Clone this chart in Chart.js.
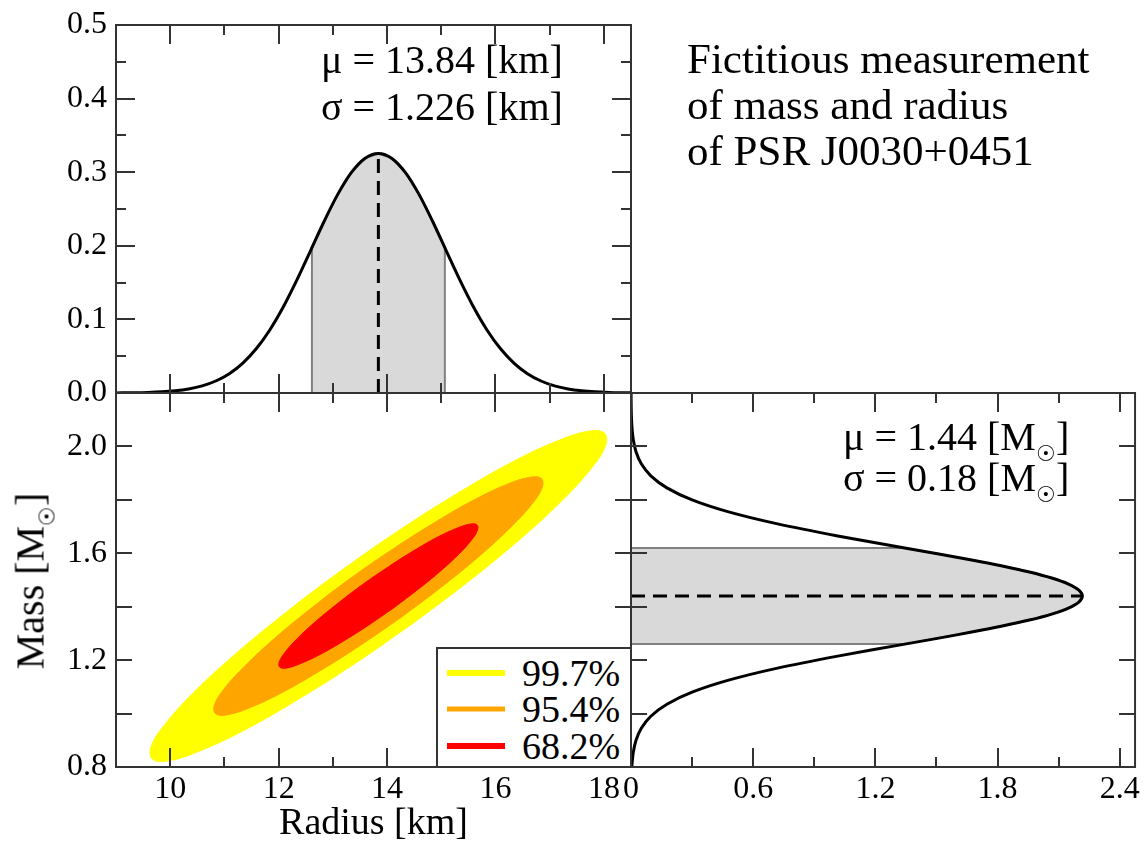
<!DOCTYPE html>
<html>
<head>
<meta charset="utf-8">
<title>Fictitious measurement of mass and radius of PSR J0030+0451</title>
<script src="https://cdn.jsdelivr.net/npm/chart.js@4.4.1/dist/chart.umd.min.js"></script>
<style>
  html, body { margin: 0; padding: 0; background: #fff; }
  #page { position: relative; width: 1147px; height: 843px; overflow: hidden;
          font-family: 'Liberation Serif', 'Times New Roman', serif; color: #000; }
  #page canvas { position: absolute; left: 0; top: 0; }
  .txt { position: absolute; white-space: nowrap; font-size: 40px; line-height: 44px; }
  .head { position: absolute; white-space: nowrap; font-size: 43px; line-height: 46px; left: 687px; }
  .sun { font-size: 55%; position: relative; top: 0.5em; font-family: 'DejaVu Serif', serif; }
  #legend { position: absolute; left: 436px; top: 647px; width: 196px; height: 121px;
            box-sizing: border-box; border: 2px solid #333; background: #fff; }
  .row { position: absolute; left: 0; width: 100%; height: 36px; }
  .row i { position: absolute; left: 9px; width: 58px; top: 50%; transform: translateY(-50%); }
  .row span { position: absolute; left: 84px; top: 0; font-size: 38px; line-height: 36px; }
  #massTitle { position: absolute; left: 30px; top: 581px; white-space: nowrap; font-size: 40px;
               transform: translate(-50%, -50%) rotate(-90deg); }
</style>
</head>
<body>
<div id="page">
  <canvas id="cTop" width="1147" height="843"></canvas>
  <canvas id="cMR" width="1147" height="843"></canvas>
  <canvas id="cMass" width="1147" height="843"></canvas>

  <div class="txt" style="left:321px; top:38px;">μ = 13.84 [km]</div>
  <div class="txt" style="left:321px; top:85px;">σ = 1.226 [km]</div>

  <div class="head" style="top:36px;">Fictitious measurement</div>
  <div class="head" style="top:82px;">of mass and radius</div>
  <div class="head" style="top:128px;">of PSR J0030+0451</div>

  <div class="txt" style="left:843px; top:415px;">μ = 1.44 [M<span class="sun">☉</span>]</div>
  <div class="txt" style="left:843px; top:456px;">σ = 0.18 [M<span class="sun">☉</span>]</div>

  <div id="massTitle">Mass [M<span class="sun">☉</span>]</div>

  <div id="legend">
    <div class="row" style="top:6px;"><i style="height:6px; background:#ffff00;"></i><span>99.7%</span></div>
    <div class="row" style="top:42px;"><i style="height:5px; background:#ffa500;"></i><span>95.4%</span></div>
    <div class="row" style="top:79px;"><i style="height:6px; background:#ff0000;"></i><span>68.2%</span></div>
  </div>
</div>

<script>
// radius marginal, top panel
var radiusKm  = [9.0, 9.34, 9.59, 9.84, 10.09, 10.34, 10.59, 10.84, 11.09, 11.34, 11.59, 11.84, 12.09, 12.34, 12.59, 12.84, 13.09, 13.34, 13.59, 13.84,
                 14.09, 14.34, 14.59, 14.84, 15.09, 15.34, 15.59, 15.84, 16.09, 16.34, 16.59, 16.84, 17.09, 17.34, 17.59, 17.84, 18.09, 18.34, 18.5];
var radiusPdf = [0.00013, 0.00039, 0.00080, 0.00159, 0.00303, 0.00553, 0.00969, 0.01630, 0.02629, 0.04069, 0.06040, 0.08601, 0.11748, 0.15395, 0.19350, 0.23332, 0.26987, 0.29943, 0.31871, 0.32540,
                 0.31871, 0.29943, 0.26987, 0.23332, 0.19350, 0.15395, 0.11748, 0.08601, 0.06040, 0.04069, 0.02629, 0.01630, 0.00969, 0.00553, 0.00303, 0.00159, 0.00080, 0.00039, 0.00024];
var radiusBandKm  = [12.614, 12.614, 12.84, 13.09, 13.34, 13.59, 13.84, 14.09, 14.34, 14.59, 14.84, 15.066, 15.066];
var radiusBandPdf = [0, 0.1974, 0.23332, 0.26987, 0.29943, 0.31871, 0.3254, 0.31871, 0.29943, 0.26987, 0.23332, 0.1974, 0];
var radiusMean = 13.84;
var radiusPeak = 0.3254;

// mass marginal, right panel (lying on its side)
var massMsun = [0.80, 0.81, 0.855, 0.90, 0.945, 0.99, 1.035, 1.08, 1.125, 1.17, 1.215, 1.26, 1.2825, 1.305, 1.3275, 1.35, 1.3725, 1.395, 1.4175, 1.44,
                1.4625, 1.485, 1.5075, 1.53, 1.5525, 1.575, 1.5975, 1.62, 1.665, 1.71, 1.755, 1.80, 1.845, 1.89, 1.935, 1.98, 2.025, 2.07, 2.115, 2.16, 2.20];
var massPdf  = [0.00399, 0.00485, 0.01127, 0.02462, 0.05052, 0.09738, 0.17633, 0.29995, 0.47932, 0.71954, 1.01472, 1.34428, 1.51142, 1.67300, 1.82312, 1.95592, 2.06587, 2.14816, 2.19910, 2.21635,
                2.19910, 2.14816, 2.06587, 1.95592, 1.82312, 1.67300, 1.51142, 1.34428, 1.01472, 0.71954, 0.47932, 0.29995, 0.17633, 0.09738, 0.05052, 0.02462, 0.01127, 0.00485, 0.00196, 0.00074, 0.00030];
var massBand = [1.26, 1.62];
var massMean = 1.44;
var massPeak = 2.21635;

// confidence regions, bottom-left panel
var c997R = [14.507, 13.406, 12.335, 11.367, 10.567, 9.990, 9.676, 9.645, 9.900, 10.424, 11.180, 12.118, 13.173, 14.274, 15.345, 16.313, 17.113, 17.690, 18.004, 18.035, 17.780, 17.256, 16.500, 15.562, 14.507];
var c997M = [1.342, 1.187, 1.050, 0.938, 0.862, 0.824, 0.829, 0.875, 0.959, 1.077, 1.219, 1.376, 1.538, 1.693, 1.830, 1.942, 2.018, 2.056, 2.051, 2.005, 1.921, 1.803, 1.661, 1.504, 1.342];
var c954R = [14.321, 13.527, 12.755, 12.057, 11.481, 11.064, 10.838, 10.816, 11.000, 11.377, 11.923, 12.599, 13.359, 14.153, 14.925, 15.623, 16.199, 16.616, 16.842, 16.864, 16.680, 16.303, 15.757, 15.081, 14.321];
var c954M = [1.369, 1.258, 1.159, 1.078, 1.023, 0.996, 0.999, 1.032, 1.094, 1.178, 1.281, 1.394, 1.511, 1.622, 1.721, 1.802, 1.857, 1.884, 1.881, 1.848, 1.786, 1.702, 1.599, 1.486, 1.369];
var c682R = [14.131, 13.651, 13.184, 12.762, 12.413, 12.161, 12.024, 12.011, 12.122, 12.350, 12.680, 13.089, 13.549, 14.029, 14.496, 14.918, 15.267, 15.519, 15.656, 15.669, 15.558, 15.330, 15.000, 14.591, 14.131];
var c682M = [1.397, 1.330, 1.270, 1.221, 1.188, 1.171, 1.173, 1.193, 1.230, 1.282, 1.344, 1.412, 1.483, 1.550, 1.610, 1.659, 1.692, 1.709, 1.707, 1.687, 1.650, 1.598, 1.536, 1.468, 1.397];

// ticks
var radiusTicks = [10, 12, 14, 16, 18];
var radiusMinor = [11, 13, 15, 17];
var pdfTicks = [0, 0.1, 0.2, 0.3, 0.4, 0.5];
var pdfMinor = [0.05, 0.15, 0.25, 0.35, 0.45];
var massTicks = [0.8, 1.2, 1.6, 2.0];
var massMarks = [0.8, 1.0, 1.2, 1.4, 1.6, 1.8, 2.0, 2.2];
var mpdfTicks = [0, 0.6, 1.2, 1.8, 2.4];
var mpdfMinor = [0.3, 0.9, 1.5, 2.1];

Chart.defaults.font.family = "'Liberation Serif', 'Times New Roman', serif";
Chart.defaults.font.size = 32;
Chart.defaults.color = '#000';

function pts(xs, ys) {
    return xs.map(function (x, i) { return {x: x, y: ys[i]}; });
}

// box round the plot area with ticks pointing inward on all four sides
function frame(xMajor, xMinor, yMajor, yMinor, yLen) {
    return {
        id: 'frame',
        afterDatasetsDraw: function (chart) {
            var ctx = chart.ctx, a = chart.chartArea;
            var sx = chart.scales.x, sy = chart.scales.y;
            ctx.save();
            ctx.strokeStyle = '#333';
            ctx.lineWidth = 2;
            ctx.beginPath();
            function xt(list, len) {
                list.forEach(function (v) {
                    var p = Math.round(sx.getPixelForValue(v));
                    ctx.moveTo(p, a.bottom); ctx.lineTo(p, a.bottom - len);
                    ctx.moveTo(p, a.top); ctx.lineTo(p, a.top + len);
                });
            }
            function yt(list, len) {
                list.forEach(function (v) {
                    var p = Math.round(sy.getPixelForValue(v));
                    ctx.moveTo(a.left, p); ctx.lineTo(a.left + len, p);
                    ctx.moveTo(a.right, p); ctx.lineTo(a.right - len, p);
                });
            }
            xt(xMajor, 19); xt(xMinor, 10);
            yt(yMajor, yLen); yt(yMinor, 10);
            ctx.stroke();
            ctx.strokeRect(a.left, a.top, a.right - a.left, a.bottom - a.top);
            ctx.restore();
        }
    };
}

function setTicks(list) {
    return function (scale) { scale.ticks = list.map(function (v) { return {value: v}; }); };
}

var noGrid = {display: false, drawTicks: false};
var labelFont = {size: 32, lineHeight: 1};

// top panel: radius distribution
new Chart(document.getElementById('cTop'), {
    type: 'scatter',
    data: {
        datasets: [{
            data: pts(radiusKm, radiusPdf), showLine: true, borderColor: '#000', borderWidth: 3,
            cubicInterpolationMode: 'monotone', pointRadius: 0, order: 1
        }, {
            data: pts([radiusMean, radiusMean], [0, radiusPeak]), showLine: true, borderColor: '#000',
            borderWidth: 3, borderDash: [14, 8], pointRadius: 0, order: 2
        }, {
            data: pts(radiusBandKm, radiusBandPdf), showLine: true, borderColor: '#808080', borderWidth: 2,
            backgroundColor: '#d9d9d9', fill: 'origin', tension: 0, pointRadius: 0, order: 3
        }]
    },
    options: {
        responsive: false, animation: false,
        layout: {padding: {left: 0, top: 19, right: 516, bottom: 450}},
        plugins: {legend: {display: false}, tooltip: {enabled: false}},
        scales: {
            x: {type: 'linear', display: false, min: 9, max: 18.5},
            y: {
                type: 'linear', min: 0, max: 0.5,
                afterFit: function (s) { s.width = 116; },
                afterBuildTicks: setTicks(pdfTicks),
                ticks: {padding: 9, font: labelFont, callback: function (v) { return v.toFixed(1); }},
                grid: noGrid, border: {display: false}
            }
        }
    },
    plugins: [frame(radiusTicks, radiusMinor, pdfTicks, pdfMinor, 19)]
});

// bottom-left panel: mass-radius confidence regions
new Chart(document.getElementById('cMR'), {
    type: 'scatter',
    data: {
        datasets: [{
            label: '99.7%', data: pts(c997R, c997M), showLine: true, fill: 'shape', tension: 0.4,
            borderColor: '#ffff00', backgroundColor: '#ffff00', borderWidth: 1, pointRadius: 0, order: 3
        }, {
            label: '95.4%', data: pts(c954R, c954M), showLine: true, fill: 'shape', tension: 0.4,
            borderColor: '#ffa500', backgroundColor: '#ffa500', borderWidth: 1, pointRadius: 0, order: 2
        }, {
            label: '68.2%', data: pts(c682R, c682M), showLine: true, fill: 'shape', tension: 0.4,
            borderColor: '#ff0000', backgroundColor: '#ff0000', borderWidth: 1, pointRadius: 0, order: 1
        }]
    },
    options: {
        responsive: false, animation: false,
        layout: {padding: {left: 0, top: 393, right: 516, bottom: 0}},
        plugins: {legend: {display: false}, tooltip: {enabled: false}},
        scales: {
            x: {
                type: 'linear', min: 9, max: 18.5,
                afterFit: function (s) { s.height = 76; },
                afterBuildTicks: setTicks(radiusTicks),
                ticks: {padding: 7, font: labelFont, callback: function (v) { return String(v); }},
                title: {display: true, text: 'Radius [km]', font: {size: 38, lineHeight: 1}, padding: {top: 0, bottom: 0}},
                grid: noGrid, border: {display: false}
            },
            y: {
                type: 'linear', min: 0.8, max: 2.2,
                afterFit: function (s) { s.width = 116; },
                afterBuildTicks: setTicks(massTicks),
                ticks: {padding: 9, font: labelFont, callback: function (v) { return v.toFixed(1); }},
                grid: noGrid, border: {display: false}
            }
        }
    },
    plugins: [frame(radiusTicks, radiusMinor, massMarks, [], 16)]
});

// bottom-right panel: mass distribution on its side
var bandM = [], bandP = [];
massMsun.forEach(function (m, i) {
    if (m >= massBand[0] && m <= massBand[1]) { bandM.push(m); bandP.push(massPdf[i]); }
});
bandM = [massBand[0]].concat(bandM, [massBand[1], massBand[0]]);
bandP = [0].concat(bandP, [0, 0]);

new Chart(document.getElementById('cMass'), {
    type: 'scatter',
    data: {
        datasets: [{
            data: pts(massPdf, massMsun), showLine: true, borderColor: '#000', borderWidth: 3,
            tension: 0.3, pointRadius: 0, order: 1
        }, {
            data: pts([0, massPeak], [massMean, massMean]), showLine: true, borderColor: '#000',
            borderWidth: 3, borderDash: [14, 8], pointRadius: 0, order: 2
        }, {
            data: pts(bandP, bandM), showLine: true, borderColor: '#808080', borderWidth: 2,
            backgroundColor: '#d9d9d9', fill: 'shape', tension: 0, pointRadius: 0, order: 3
        }]
    },
    options: {
        responsive: false, animation: false,
        layout: {padding: {left: 631, top: 393, right: 7.7, bottom: 0}},
        plugins: {legend: {display: false}, tooltip: {enabled: false}},
        scales: {
            x: {
                type: 'linear', min: 0, max: 2.475,
                afterFit: function (s) { s.height = 76; },
                afterBuildTicks: setTicks(mpdfTicks),
                ticks: {padding: 7, font: labelFont, callback: function (v) { return v === 0 ? '0' : v.toFixed(1); }},
                grid: noGrid, border: {display: false}
            },
            y: {type: 'linear', display: false, min: 0.8, max: 2.2}
        }
    },
    plugins: [frame(mpdfTicks, mpdfMinor, massMarks, [], 16)]
});
</script>
</body>
</html>
